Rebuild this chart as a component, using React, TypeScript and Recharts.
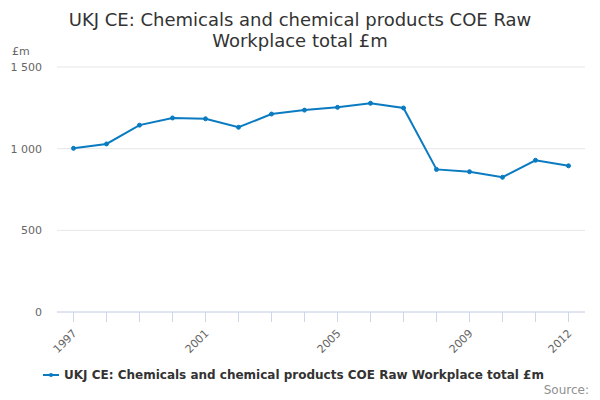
import { LineChart, Line, XAxis, YAxis, CartesianGrid } from 'recharts';

const years = [1997, 1998, 1999, 2000, 2001, 2002, 2003, 2004, 2005, 2006, 2007, 2008, 2009, 2010, 2011, 2012];
const values = [1002, 1029, 1144, 1188, 1183, 1131, 1212, 1236, 1253, 1278, 1249, 873, 859, 825, 929, 895];
const labelYears = [1997, 2001, 2005, 2009, 2012];
const yTicks = [0, 500, 1000, 1500];

const seriesName = 'UKJ CE: Chemicals and chemical products COE Raw Workplace total £m';
const font = '"DejaVu Sans", sans-serif';
const lineColor = '#0a7bc1';

const data = years.map((year, i) => ({ year, value: values[i] }));

const formatThousands = (v: number) => String(v).replace(/\B(?=(\d{3})+(?!\d))/g, ' ');

const YearTick = ({ x, y, payload }: any) => {
  if (!labelYears.includes(payload.value)) return null;
  return (
    <text
      x={x + 4}
      y={y + 10}
      transform={`rotate(-45, ${x + 4}, ${y + 10})`}
      textAnchor="end"
      fontSize={11}
      fill="#666666"
      fontFamily={font}
    >
      {payload.value}
    </text>
  );
};

export default function App() {
  return (
    <div style={{ position: 'absolute', left: 0, top: 0, width: 600, height: 400, background: '#fff', fontFamily: font }}>
      <div style={{ position: 'absolute', top: 9, left: 0, width: 600, textAlign: 'center', fontSize: 18, lineHeight: '21px', color: '#333333' }}>
        UKJ CE: Chemicals and chemical products COE Raw
        <br />
        Workplace total £m
      </div>
      <div style={{ position: 'absolute', top: 45, left: 12, fontSize: 11, color: '#666666' }}>£m</div>
      <LineChart width={600} height={400} data={data} margin={{ top: 67, right: 15, bottom: 88 - 40, left: 0 }}>
        <CartesianGrid vertical={false} stroke="#e6e6e6" />
        <XAxis
          dataKey="year"
          type="number"
          domain={[1996.5, 2012.5]}
          ticks={years}
          interval={0}
          tick={<YearTick />}
          tickSize={10}
          tickLine={{ stroke: '#ccd6eb' }}
          axisLine={{ stroke: '#ccd6eb' }}
          height={40}
        />
        <YAxis
          domain={[0, 1500]}
          ticks={yTicks}
          width={57}
          tickLine={false}
          axisLine={false}
          tickMargin={9}
          tickFormatter={formatThousands}
          tick={{ fontSize: 11, fill: '#666666', fontFamily: font }}
        />
        <Line
          type="linear"
          dataKey="value"
          stroke={lineColor}
          strokeWidth={2}
          dot={{ r: 2, fill: lineColor, stroke: lineColor, strokeWidth: 1 }}
          isAnimationActive={false}
        />
      </LineChart>
      <div style={{ position: 'absolute', top: 368, left: 43, display: 'flex', alignItems: 'center', fontSize: 12, fontWeight: 'bold', color: '#333333' }}>
        <svg width={16} height={10} style={{ marginRight: 5 }}>
          <line x1={0} y1={5} x2={16} y2={5} stroke={lineColor} strokeWidth={2} />
          <circle cx={8} cy={5} r={2} fill={lineColor} />
        </svg>
        {seriesName}
      </div>
      <div style={{ position: 'absolute', top: 383, right: 11, fontSize: 12, color: '#909090' }}>Source:</div>
    </div>
  );
}
